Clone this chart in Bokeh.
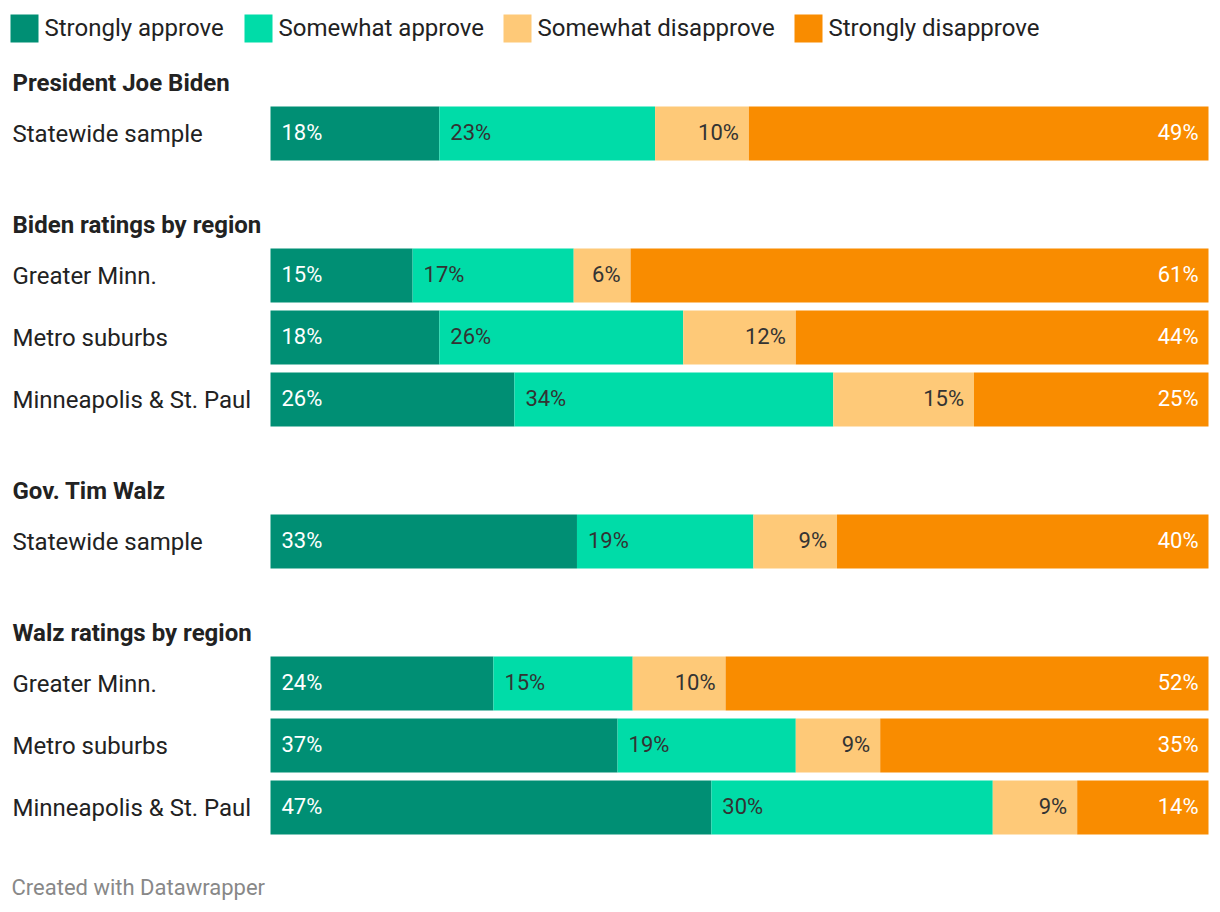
from bokeh.plotting import figure
from bokeh.models import Range1d, ColumnDataSource
from bokeh.core.properties import value
from bokeh.embed import file_html
from bokeh.resources import INLINE

# ---- data ----
series = ["Strongly approve", "Somewhat approve", "Somewhat disapprove", "Strongly disapprove"]
group_titles = ["President Joe Biden", "Biden ratings by region", "Gov. Tim Walz", "Walz ratings by region"]
group_rows = [
    ["Statewide sample"],
    ["Greater Minn.", "Metro suburbs", "Minneapolis & St. Paul"],
    ["Statewide sample"],
    ["Greater Minn.", "Metro suburbs", "Minneapolis & St. Paul"],
]
strongly_approve = [18, 15, 18, 26, 33, 24, 37, 47]
somewhat_approve = [23, 17, 26, 34, 19, 15, 19, 30]
somewhat_disapprove = [10, 6, 12, 15, 9, 10, 9, 9]
strongly_disapprove = [49, 61, 44, 25, 40, 52, 35, 14]

# ---- style ----
colors = ["#008f74", "#00dca8", "#fec978", "#f98c00"]
text_colors = ["#ffffff", "#333333", "#333333", "#ffffff"]
aligns = ["left", "left", "right", "right"]
FONT = "Roboto"
W, H = 1220, 912
BAR_L, BAR_R = 270, 1208
scale = (BAR_R - BAR_L) / 100.0

def px(xp):
    return (xp - BAR_L) / scale

p = figure(width=W, height=H, output_backend="svg", toolbar_location=None,
           x_range=Range1d(px(0), px(W)), y_range=Range1d(H, 0),
           min_border=0, min_border_left=0, min_border_right=0,
           min_border_top=0, min_border_bottom=0)
p.axis.visible = False
p.xgrid.visible = False
p.ygrid.visible = False
p.outline_line_color = None
p.background_fill_color = "white"

# layout of rows
header_y = []
row_y = []
row_labels = []
y = 82
for title, rows in zip(group_titles, group_rows):
    header_y.append(y)
    ry = y + 51
    for r in rows:
        row_y.append(ry)
        row_labels.append(r)
        ry += 62
    y = ry - 62 + 91

vals = [strongly_approve, somewhat_approve, somewhat_disapprove, strongly_disapprove]
totals = [sum(v[i] for v in vals) for i in range(len(row_y))]

cum = [0.0] * len(row_y)
for k, v in enumerate(vals):
    lefts = [cum[i] / totals[i] * 100 for i in range(len(row_y))]
    rights = [(cum[i] + v[i]) / totals[i] * 100 for i in range(len(row_y))]
    cum = [cum[i] + v[i] for i in range(len(row_y))]
    src = ColumnDataSource(dict(y=row_y, left=lefts, right=rights,
                                ty=[yy - 1.5 for yy in row_y],
                                lab=[f"{x}%" for x in v]))
    p.hbar(y="y", left="left", right="right", height=54, source=src,
           fill_color=colors[k], line_color=None)
    if aligns[k] == "left":
        p.text(x="left", y="ty", text="lab", source=src, x_offset=11,
               text_align="left", text_baseline="middle",
               text_font=value(FONT), text_font_size="22px",
               text_color=text_colors[k])
    else:
        p.text(x="right", y="ty", text="lab", source=src, x_offset=-10,
               text_align="right", text_baseline="middle",
               text_font=value(FONT), text_font_size="22px",
               text_color=text_colors[k])

# row labels
p.text(x=[px(12)] * len(row_y), y=row_y, text=row_labels,
       text_align="left", text_baseline="middle", text_font=value(FONT),
       text_font_size="24px", text_color="#222222")
# group headers
p.text(x=[px(12)] * len(header_y), y=header_y, text=group_titles,
       text_align="left", text_baseline="middle", text_font=value(FONT),
       text_font_size="24px", text_font_style="bold", text_color="#222222")

# legend
leg_sq_x = [10, 244, 503, 794]
p.rect(x=[px(xx + 14) for xx in leg_sq_x], y=[28] * 4, width=28 / scale, height=28,
       fill_color=colors, line_color=None)
p.text(x=[px(xx + 34) for xx in leg_sq_x], y=[27] * 4, text=series,
       text_align="left", text_baseline="middle", text_font=value(FONT),
       text_font_size="24px", text_color="#222222")

# footer
p.text(x=[px(11)], y=[887], text=["Created with Datawrapper"],
       text_align="left", text_baseline="middle", text_font=value(FONT),
       text_font_size="22px", text_color="#888888")

open("out.html", "w").write(file_html(p, INLINE))
